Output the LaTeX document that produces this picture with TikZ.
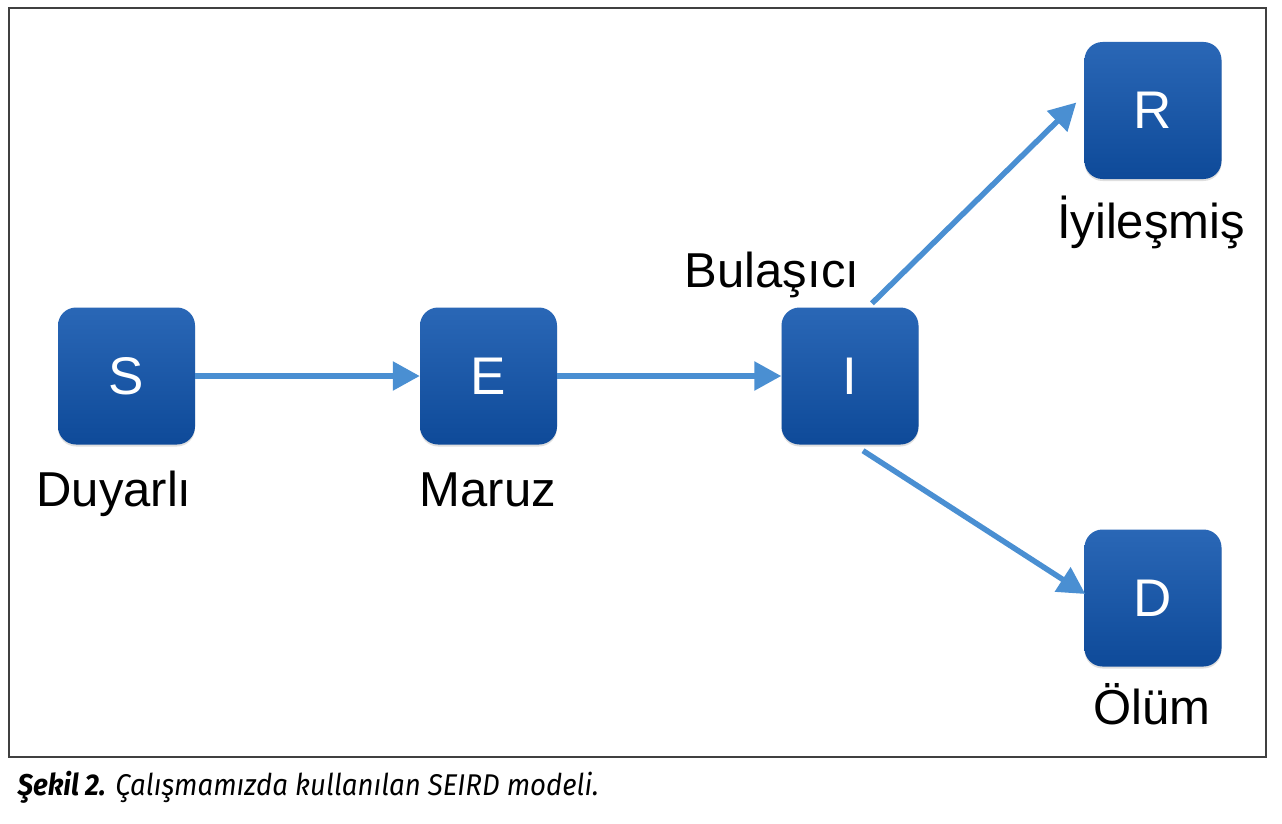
\documentclass[tikz,border=0pt]{standalone}
\usepackage{fontspec}
\setmainfont{Liberation Sans}
\newfontfamily\capfont{Fira Sans}
\usetikzlibrary{arrows.meta,shadows,calc}
\definecolor{boxtop}{HTML}{2A67B6}
\definecolor{boxbot}{HTML}{0E4A99}
\definecolor{arrowblue}{HTML}{4A8FD2}
\tikzset{
	state/.style={rectangle,rounded corners=18pt,minimum size=137pt,
		top color=boxtop,bottom color=boxbot,draw=none,text=white,
		font=\fontsize{53}{62}\selectfont,
		drop shadow={opacity=0.25,shadow xshift=0pt,shadow yshift=-2pt}},
	statelabel/.style={anchor=base,font=\fontsize{49}{58}\selectfont},
	flow/.style={arrowblue,line width=5.5pt,-{Triangle[length=27pt,width=28pt]}}
}
\begin{document}
\begin{tikzpicture}[x=1pt,y=-1pt]
		\useasboundingbox (0,0) rectangle (1282,824);
		\draw[line width=1.2pt,black!75] (9,8) rectangle (1266,757);
		\node[state] (S) at (126.5,376) {S};
		\node[state] (E) at (488.5,376) {E};
		\node[state] (I) at (850,376) {I};
		\node[state] (R) at (1153,110.5) {R};
		\node[state] (D) at (1153,598) {D};
		\node[statelabel] (lS) at (114,506) {Duyarlı};
		\node[statelabel] (lE) at (488,506) {Maruz};
		\node[statelabel] (lI) at (772,287) {Bulaşıcı};
		\node[statelabel] (lR) at (1151,238) {İyileşmiş};
		\node[statelabel] (lD) at (1152,724) {Ölüm};
		\draw[flow] (S.east) -- (E.west);
		\draw[flow] (E.east) -- (I.west);
		\draw[flow] ([xshift=22pt,yshift=4pt]I.north) -- ([xshift=-8pt,yshift=8pt]R.west);
		\draw[flow] ([xshift=13pt,yshift=-6pt]I.south) -- ([xshift=1pt,yshift=4pt]D.west);
		\node[anchor=base west,font=\capfont\fontsize{30}{35}\selectfont\itshape] (cap) at (14,795)
			{\scalebox{0.92}[1]{\textbf{Şekil 2.} Çalışmamızda kullanılan SEIRD modeli.}};
	\end{tikzpicture}
\end{document}
